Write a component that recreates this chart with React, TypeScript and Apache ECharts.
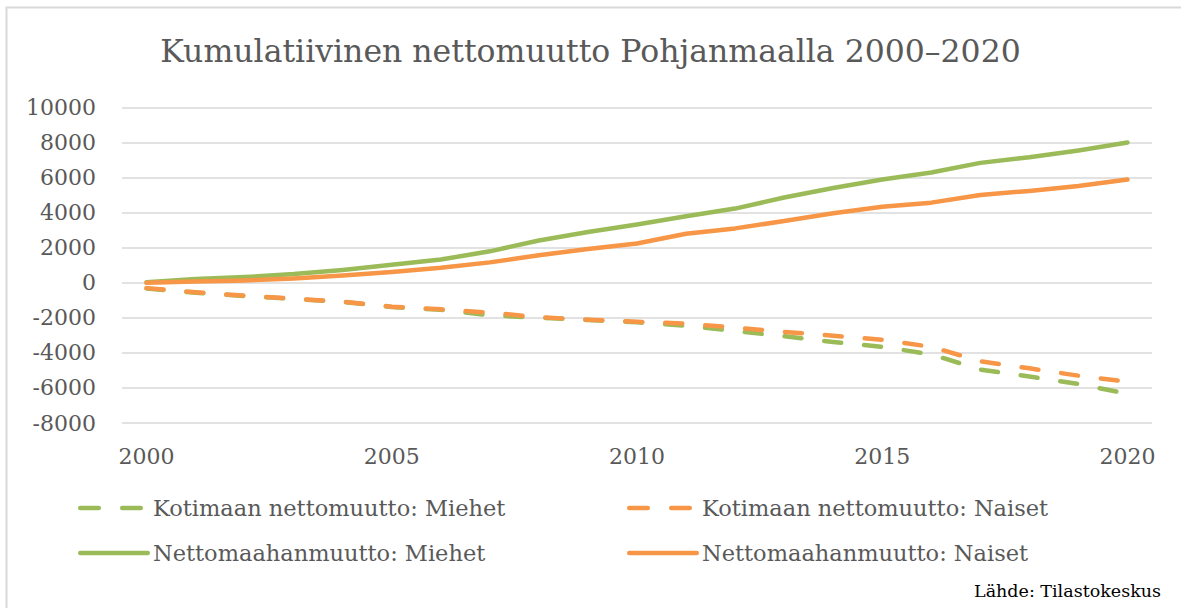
import React, { useEffect, useRef } from "react";
import * as echarts from "echarts";

const years = [
  "2000", "2001", "2002", "2003", "2004", "2005", "2006", "2007", "2008", "2009", "2010",
  "2011", "2012", "2013", "2014", "2015", "2016", "2017", "2018", "2019", "2020",
];

const kotimaanMiehet = [
  -320, -560, -750, -920, -1090, -1380, -1540, -1850, -1990, -2120, -2250,
  -2450, -2750, -3050, -3380, -3650, -4080, -4950, -5350, -5770, -6330,
];
const kotimaanNaiset = [
  -300, -540, -730, -900, -1070, -1360, -1510, -1700, -1960, -2100, -2220,
  -2330, -2550, -2800, -3020, -3250, -3650, -4480, -4880, -5300, -5640,
];
const nettoMiehet = [
  40, 220, 330, 500, 740, 1030, 1330, 1800, 2420, 2900, 3330,
  3800, 4240, 4870, 5420, 5900, 6300, 6850, 7170, 7560, 8010,
];
const nettoNaiset = [
  0, 80, 140, 250, 420, 620, 860, 1170, 1580, 1930, 2250,
  2800, 3110, 3530, 3970, 4350, 4580, 5020, 5250, 5530, 5900,
];

const seriesNames = [
  "Kotimaan nettomuutto: Miehet",
  "Kotimaan nettomuutto: Naiset",
  "Nettomaahanmuutto: Miehet",
  "Nettomaahanmuutto: Naiset",
];

const titleText = "Kumulatiivinen nettomuutto Pohjanmaalla 2000–2020";
const sourceText = "Lähde: Tilastokeskus";

const GREEN = "#9BBB59";
const ORANGE = "#F79646";
const TEXT = "#595959";
const FONT = "DejaVu Serif";

// legend icons (72 x 4.5 box): dashed = two rounded dashes, solid = one rounded bar
const DASH_ICON =
  "path://M2.25,0 H20.75 A2.25,2.25 0 0 1 20.75,4.5 H2.25 A2.25,2.25 0 0 1 2.25,0 Z " +
  "M44.25,0 H62.75 A2.25,2.25 0 0 1 62.75,4.5 H44.25 A2.25,2.25 0 0 1 44.25,0 Z " +
  "M71.95,2.2 L72,2.2 L72,2.3 Z";
const SOLID_ICON =
  "path://M2.25,0 H69.75 A2.25,2.25 0 0 1 69.75,4.5 H2.25 A2.25,2.25 0 0 1 2.25,0 Z";

export default function App() {
  const ref = useRef<HTMLDivElement>(null);

  useEffect(() => {
    if (!ref.current) return;
    const chart = echarts.init(ref.current, undefined, { renderer: "svg" });
    const dash = [17, 23];
    const mk = (name: string, data: number[], color: string, dashed: boolean) => ({
      name,
      type: "line",
      data,
      symbol: "none",
      smooth: false,
      color,
      lineStyle: {
        color,
        width: 4.5,
        type: dashed ? dash : "solid",
        cap: "round",
        join: "round",
      },
    });
    const legendBase = {
      orient: "vertical",
      itemWidth: 72,
      itemHeight: 4.5,
      itemGap: 18,
      symbolKeepAspect: false,
      textStyle: { fontFamily: FONT, fontSize: 22.5, lineHeight: 27, color: TEXT, padding: [0, 0, 0, -2] },
      selectedMode: false,
    };
    chart.setOption({
      animation: false,
      backgroundColor: "#ffffff",
      title: [
        {
          text: titleText,
          left: "center",
          top: 30,
          textStyle: { fontFamily: FONT, fontSize: 31.5, fontWeight: "normal", color: TEXT },
        },
        {
          text: sourceText,
          right: 15,
          top: 577,
          textStyle: { fontFamily: FONT, fontSize: 17.5, fontWeight: "normal", color: "#000000" },
        },
      ],
      grid: { left: 122, right: 29, top: 107.7, bottom: 185, containLabel: false },
      xAxis: {
        type: "category",
        data: years,
        boundaryGap: true,
        axisLine: { show: false },
        axisTick: { show: false },
        axisLabel: {
          interval: (i: number) => i % 5 === 0,
          margin: 22,
          fontFamily: FONT,
          fontSize: 22,
          color: TEXT,
        },
        splitLine: { show: false },
      },
      yAxis: {
        type: "value",
        min: -8000,
        max: 10000,
        interval: 2000,
        axisLine: { show: false },
        axisTick: { show: false },
        axisLabel: {
          margin: 26,
          fontFamily: FONT,
          fontSize: 22,
          color: TEXT,
          formatter: (v: number) => String(v),
        },
        splitLine: { lineStyle: { color: "#D9D9D9", width: 1.5 } },
      },
      legend: [
        {
          ...legendBase,
          left: 73,
          top: 489.5,
          data: [
            { name: seriesNames[0], icon: DASH_ICON },
            { name: seriesNames[2], icon: SOLID_ICON },
          ],
        },
        {
          ...legendBase,
          left: 622,
          top: 489.5,
          data: [
            { name: seriesNames[1], icon: DASH_ICON },
            { name: seriesNames[3], icon: SOLID_ICON },
          ],
        },
      ],
      series: [
        mk(seriesNames[0], kotimaanMiehet, GREEN, true),
        mk(seriesNames[1], kotimaanNaiset, ORANGE, true),
        mk(seriesNames[2], nettoMiehet, GREEN, false),
        mk(seriesNames[3], nettoNaiset, ORANGE, false),
      ],
      graphic: [
        {
          type: "rect",
          silent: true,
          shape: { x: 6.5, y: 7.5, width: 1400, height: 1000 },
          style: { fill: "none", stroke: "#D9D9D9", lineWidth: 2 },
        },
      ],
    });
    return () => chart.dispose();
  }, []);

  return (
    <div
      ref={ref}
      style={{ position: "absolute", left: 0, top: 0, width: 1181, height: 608 }}
    />
  );
}
